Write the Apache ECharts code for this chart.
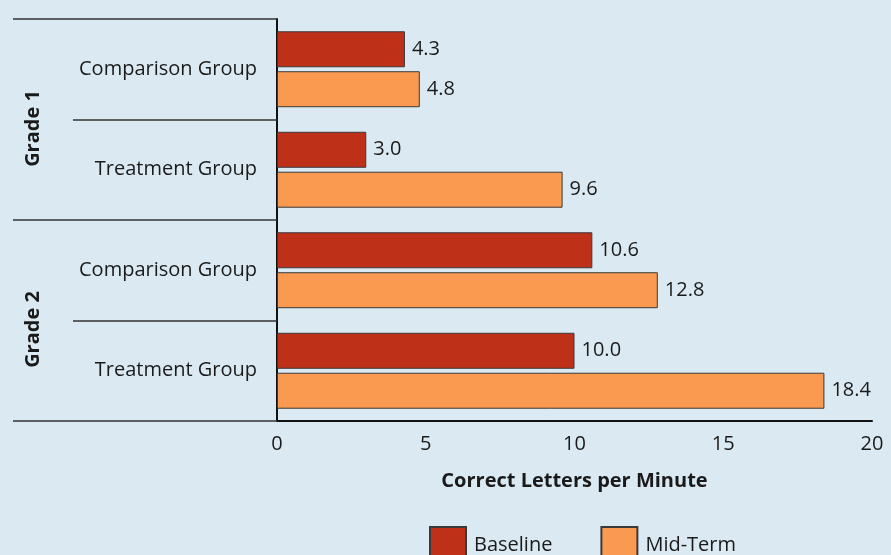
<!DOCTYPE html>
<html>
<head>
<meta charset="utf-8">
<script src="https://cdn.jsdelivr.net/npm/echarts@6/dist/echarts.min.js"></script>
<style>
html, body { margin: 0; padding: 0; background: #dbeaf2; }
#chart { width: 891px; height: 555px; }
</style>
</head>
<body>
<div id="chart"></div>
<script>
// data
var groups = ['Comparison Group', 'Treatment Group', 'Comparison Group', 'Treatment Group'];
var grades = ['Grade 1', 'Grade 2'];
var baseline = [4.3, 3.0, 10.6, 10.0];
var midTerm = [4.8, 9.6, 12.8, 18.4];
var xTicks = [0, 5, 10, 15, 20];

var fontName = 'Open Sans';
var textColor = '#1a1a1a';

function initChart() {
    var chart = echarts.init(document.getElementById('chart'));
    var barLabel = {
        show: true,
        position: 'right',
        distance: 7,
        fontFamily: fontName,
        fontSize: 20,
        color: textColor,
        formatter: function (p) { return p.value.toFixed(1); }
    };
    var option = {
        backgroundColor: '#dbeaf2',
        animation: false,
        legend: {
            data: ['Baseline', 'Mid-Term'],
            left: 424,
            top: 521,
            icon: 'rect',
            itemWidth: 36,
            itemHeight: 36,
            itemGap: 48,
            textStyle: { fontFamily: fontName, fontSize: 20, color: textColor, padding: [0, 0, 0, 3] }
        },
        grid: { left: 277, right: 19, top: 19, bottom: 134 },
        xAxis: {
            type: 'value',
            min: xTicks[0],
            max: xTicks[xTicks.length - 1],
            interval: 5,
            name: 'Correct Letters per Minute',
            nameLocation: 'middle',
            nameGap: 50,
            nameTextStyle: { fontFamily: fontName, fontSize: 20, fontWeight: 'bold', color: textColor },
            axisLine: { show: true, lineStyle: { color: '#111', width: 2 } },
            axisTick: { show: false },
            splitLine: { show: false },
            axisLabel: { fontFamily: fontName, fontSize: 20, color: textColor, margin: 13 }
        },
        yAxis: [
            {
                type: 'category',
                inverse: true,
                data: groups,
                axisLine: { show: true, lineStyle: { color: '#111', width: 2 } },
                axisTick: { show: true, length: 204, lineStyle: { color: '#333', width: 1.5 } },
                axisLabel: { fontFamily: fontName, fontSize: 20, color: textColor, margin: 20 }
            },
            {
                type: 'category',
                inverse: true,
                position: 'left',
                data: grades,
                axisLine: { show: false },
                axisTick: { show: true, length: 264, lineStyle: { color: '#333', width: 1.5 } },
                axisLabel: {
                    rotate: 90,
                    margin: 234,
                    fontFamily: fontName,
                    fontSize: 20,
                    fontWeight: 'bold',
                    color: textColor,
                    padding: [0, 18, 0, 0]
                }
            }
        ],
        series: [
            {
                name: 'Baseline',
                type: 'bar',
                yAxisIndex: 0,
                barWidth: 36,
                barGap: '11%',
                itemStyle: { color: '#bf3019', borderColor: '#3a3a3a', borderWidth: 1 },
                label: barLabel,
                data: baseline
            },
            {
                name: 'Mid-Term',
                type: 'bar',
                yAxisIndex: 0,
                barWidth: 36,
                barGap: '11%',
                itemStyle: { color: '#f99a50', borderColor: '#3a3a3a', borderWidth: 1 },
                label: barLabel,
                data: midTerm
            }
        ]
    };
    chart.setOption(option);
}
initChart();
</script>
</body>
</html>
